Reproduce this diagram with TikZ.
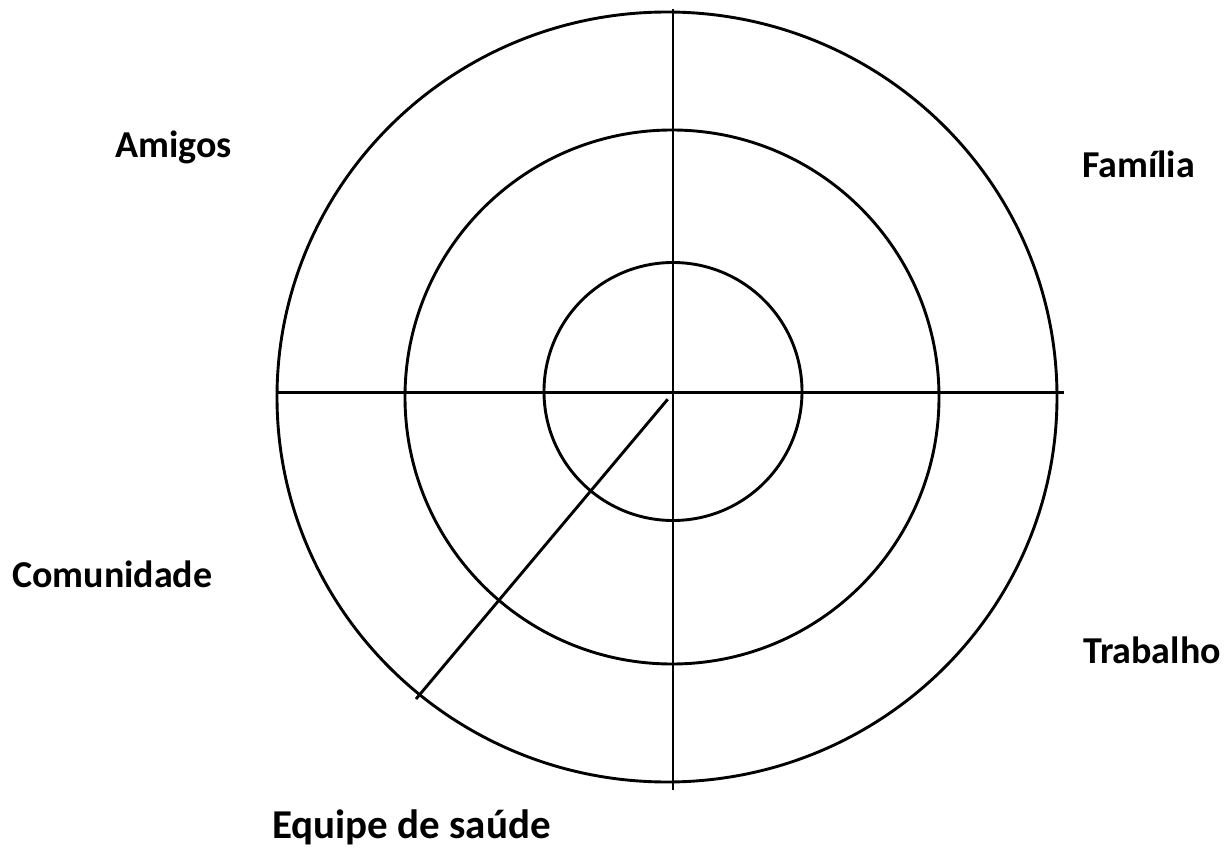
\documentclass[tikz,border=0pt]{standalone}
\usepackage{fontspec}
\setmainfont{Carlito}
\usepackage{tikz}
\usetikzlibrary{calc}

\begin{document}
\begin{tikzpicture}[x=1pt, y=-1pt,
    ring/.style={line width=2.9pt, black},
    axisline/.style={line width=2.9pt, black},
    arealabel/.style={anchor=base west, inner sep=0pt, font=\fontsize{38}{45}\selectfont\bfseries}]

    % ==========================================
    % FRAME (keeps the page at 1226 x 850)
    % ==========================================
    \useasboundingbox (0,0) rectangle (1226,850);

    % Define parameters
    \def\rmid{267}  % middle ring
    \def\rin{129}   % inner ring

    % Coordinates
    \coordinate (O_out) at (667,397);
    \coordinate (O_mid) at (672,397);
    \coordinate (O_in) at (673,391.5);

    % ==========================================
    % RINGS
    % ==========================================
    \draw[ring] (O_out) ellipse [x radius=390, y radius=385];
    \draw[ring] (O_mid) circle [radius=\rmid];
    \draw[ring] (O_in) circle [radius=\rin];

    % ==========================================
    % DIVIDING LINES
    % ==========================================
    \coordinate (W) at (277,392.5);
    \coordinate (E) at (1064,392.5);
    \coordinate (N) at (673,9);
    \coordinate (S) at (673,790);
    \coordinate (D_start) at (667.7,399.3); % diagonal starts just off the centre
    \coordinate (D_end) at (416,699);

    \draw[axisline] (W) -- (E);
    \draw[axisline] (N) -- (S);
    \draw[axisline] (D_start) -- (D_end);

    % ==========================================
    % LABELS
    % ==========================================
    \node[arealabel] (amigos) at (115,158) {Amigos};
    \node[arealabel] (familia) at (1082,178) {Família};
    \node[arealabel] (comunidade) at (12,587) {Comunidade};
    \node[arealabel] (trabalho) at (1083,663) {Trabalho};
    \node[arealabel, font=\fontsize{41}{48}\selectfont\bfseries] (equipe) at (272,838) {Equipe de saúde};

\end{tikzpicture}
\end{document}
